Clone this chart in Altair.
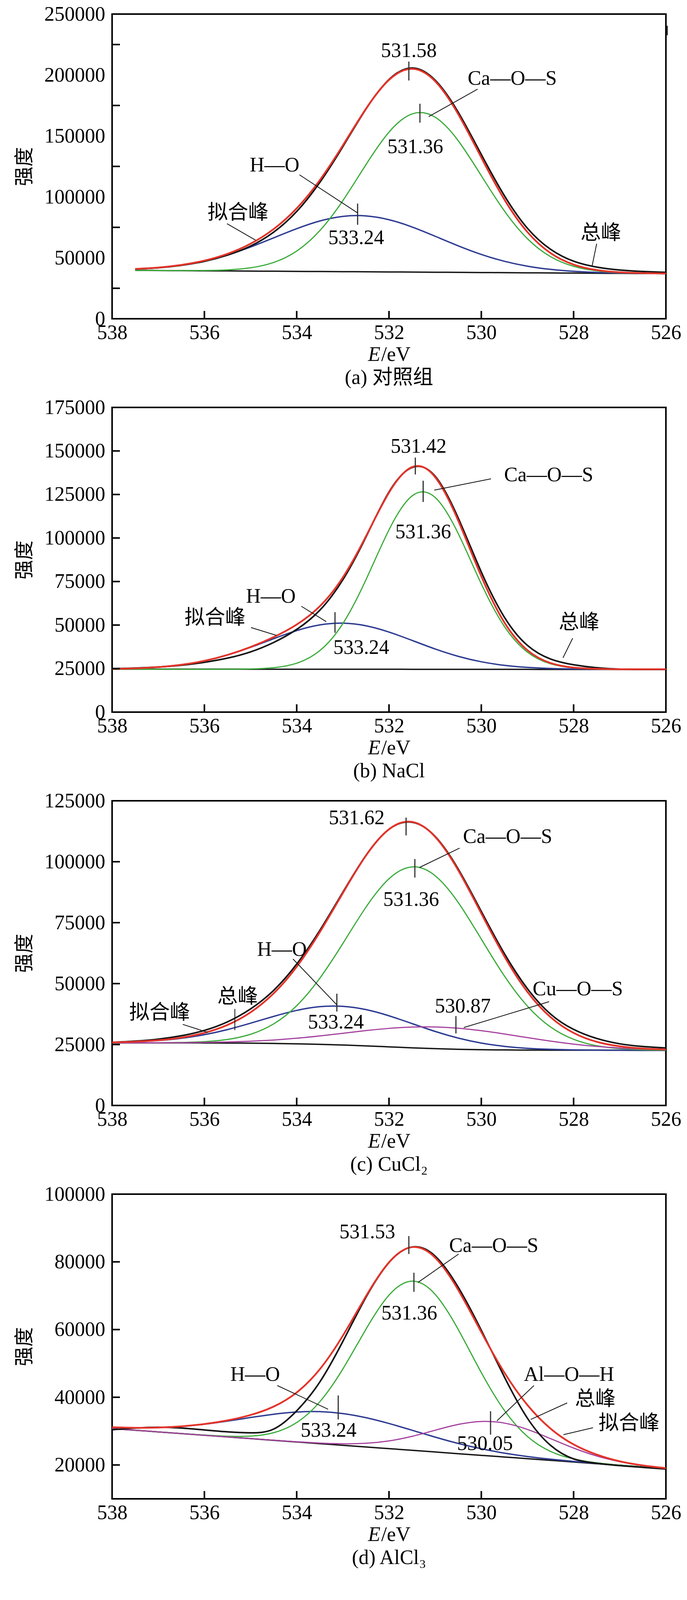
import altair as alt
import pandas as pd

# ---------------- data ----------------
E = [538.0, 537.5, 537.0, 536.5, 536.0, 535.5, 535.0, 534.5, 534.0, 533.5, 533.0, 532.5,
     532.0, 531.5, 531.0, 530.5, 530.0, 529.5, 529.0, 528.5, 528.0, 527.5, 527.0, 526.5, 526.0]
X_LABELS = [538, 536, 534, 532, 530, 528, 526]
X_TICKS = [536, 534, 532, 530, 528]

# (a) 对照组
A_BASE = [None, 39700, 39580, 39470, 39350, 39230, 39110, 39000, 38880, 38760, 38640, 38530,
          38410, 38290, 38170, 38060, 37940, 37820, 37700, 37590, 37470, 37350, 37230, 37120, 37000]
A_HO = [None, 40880, 42010, 44080, 47460, 52380, 58840, 66350, 73900, 80220, 84000, 84400,
        81270, 75300, 67710, 59850, 52790, 47170, 43140, 40520, 38930, 38020, 37510, 37230, 37040]
A_CAOS = [None, 39700, 39590, 39530, 39595, 40100, 41800, 46200, 55560, 72260, 96920, 126390,
          153130, 168070, 165370, 146070, 117390, 88480, 65670, 50960, 43010, 39340, 37850, 37290, 37040]
A_FIT = [None, 40880, 42020, 44140, 47705, 53250, 61530, 73550, 90580, 113720, 142280, 172260,
         195990, 205080, 194910, 167860, 132240, 97830, 71110, 53890, 44470, 40010, 38130, 37400, 37080]
A_TOTAL = [None, 40700, 41800, 43800, 47100, 52200, 59600, 71000, 88000, 111800, 141200, 172000,
           196300, 205800, 195800, 169500, 134800, 101000, 74200, 57000, 47200, 42400, 40000, 38800, 38100]

# (b) NaCl
B_BASE = [24700, 24700, 24690, 24680, 24670, 24660, 24650, 24640, 24630, 24620, 24610, 24600,
          24600, 24590, 24580, 24570, 24560, 24550, 24540, 24530, 24520, 24510, 24500, 24500, 24500]
B_HO = [24820, 25150, 25860, 27190, 29440, 32810, 37210, 42180, 46820, 50070, 51090, 49580,
        45970, 41180, 36260, 32040, 28910, 26860, 25680, 25060, 24780, 24665, 24620, 24605, 24600]
B_CAOS = [24600, 24600, 24600, 24600, 24604, 24630, 24785, 25500, 28070, 35290, 50850, 75960,
          104700, 124180, 123290, 102550, 73680, 49230, 34450, 27740, 25400, 24760, 24626, 24600, 24600]
B_FIT = [24820, 25150, 25860, 27190, 29444, 32840, 37395, 43080, 50290, 60760, 77340, 100940,
         126070, 140760, 134950, 109990, 77990, 51490, 35530, 28200, 25580, 24825, 24646, 24605, 24600]
B_TOTAL = [24900, 25300, 25900, 26900, 28600, 31000, 34600, 40000, 47500, 58500, 76000, 100500,
           126500, 140500, 135500, 111500, 80500, 54500, 38300, 30500, 27200, 25500, 24700, 24500, 24500]

# (c) CuCl2
C_BASE = [25700, 25700, 25690, 25680, 25660, 25620, 25560, 25450, 25300, 25100, 24800, 24450,
          24050, 23650, 23300, 23050, 22880, 22780, 22720, 22690, 22670, 22660, 22660, 22650, 22650]
C_HO = [25890, 26150, 26660, 27580, 29050, 31140, 33750, 36540, 39000, 40540, 40670, 39330,
        36780, 33590, 30370, 27650, 25600, 24250, 23445, 23020, 22805, 22710, 22678, 22656, 22652]
C_CAOS = [25700, 25712, 25738, 25850, 26190, 27090, 29210, 33460, 40930, 52190, 66450, 81330,
          93010, 97880, 94260, 83270, 68250, 53140, 40750, 32200, 27130, 24510, 23340, 22875, 22715]
C_CUOS = [25706, 25717, 25732, 25779, 25875, 26053, 26371, 26860, 27590, 28540, 29620, 30720,
          31630, 32170, 32200, 31690, 30680, 29330, 27830, 26390, 25170, 24220, 23570, 23140, 22900]
C_FIT = [25896, 26179, 26750, 27849, 29795, 33043, 38211, 45960, 56920, 71070, 87140, 102480,
         113320, 116340, 110230, 96510, 78770, 61160, 46585, 36230, 29765, 26120, 24268, 23371, 22967]
C_TOTAL = [25900, 26400, 27200, 28600, 30800, 34300, 39600, 47200, 58000, 71800, 87500, 102600,
           113300, 116200, 110400, 97000, 79600, 62300, 47900, 37500, 31200, 27500, 25300, 24200, 23600]

# (d) AlCl3
D_BASE = [30750, 30260, 29760, 29270, 28780, 28280, 27790, 27290, 26800, 26310, 25810, 25320,
          24830, 24340, 23840, 23340, 22850, 22360, 21860, 21370, 20880, 20380, 19890, 19390, 18900]
D_HO = [31130, 30980, 31050, 31400, 32050, 32960, 34020, 34990, 35640, 35750, 35190, 33970,
        32250, 30260, 28230, 26360, 24790, 23510, 22500, 21700, 21040, 20450, 19920, 19400, 18905]
D_CAOS = [30750, 30260, 29760, 29280, 28830, 28490, 28530, 29530, 32530, 38660, 48350, 60090,
          70160, 74310, 70410, 60030, 47290, 36120, 28410, 24000, 21780, 20640, 19950, 19405, 18903]
D_ALOH = [30750, 30260, 29760, 29270, 28780, 28281, 27793, 27303, 26850, 26470, 26260, 26410,
          27110, 28460, 30260, 31980, 32860, 32370, 30500, 27790, 25000, 22660, 20980, 19840, 19060]
D_FIT = [31130, 30980, 31050, 31410, 32100, 33171, 34763, 37243, 41420, 48260, 58180, 69830,
         79860, 84350, 81220, 71690, 59240, 47280, 37690, 30750, 26060, 23070, 21070, 19865, 19068]
D_TOTAL = [30400, 30900, 31150, 30900, 30350, 29800, 29500, 30600, 36000, 44500, 56500, 69500,
           79800, 84400, 81700, 72500, 59800, 46000, 33800, 25800, 21800, 20500, 19800, 19300, 18800]

# annotations: (text, E, intensity)
A_TEXT = [("531.58", 531.57, 219800), ("Ca—O—S", 529.33, 197100), ("531.36", 531.43, 141000),
          ("H—O", 534.48, 125900), ("533.24", 532.71, 66400), ("拟合峰", 535.27, 86800),
          ("总峰", 527.41, 70300)]
A_LEAD = [(530.08, 188400, 531.14, 165800), (533.94, 118100, 532.68, 86800),
          (535.51, 78000, 534.89, 64500), (527.5, 61600, 527.6, 43200)]
A_MARK = [(531.57, 211000, 195500), (531.33, 176400, 160900), (532.68, 94500, 77100),
          (525.97, 240400, 232600)]

B_TEXT = [("531.42", 531.36, 152600), ("Ca—O—S", 528.54, 136100), ("531.36", 531.26, 103500),
          ("H—O", 534.56, 66500), ("533.24", 532.6, 37030), ("拟合峰", 535.77, 54000),
          ("总峰", 527.88, 51300)]
B_LEAD = [(529.79, 134000, 531.02, 127500), (533.9, 60800, 533.36, 51950),
          (534.99, 48560, 534.44, 44090), (528.02, 42460, 528.23, 31200)]
B_MARK = [(531.43, 146200, 136500), (531.26, 132900, 120700), (533.17, 57400, 45600)]

C_TEXT = [("531.62", 532.70, 117900), ("Ca—O—S", 529.43, 110200), ("531.36", 531.52, 84500),
          ("H—O", 534.32, 64000), ("533.24", 533.15, 34150), ("总峰", 535.28, 44550),
          ("拟合峰", 536.97, 37980), ("Cu—O—S", 527.91, 47830), ("530.87", 530.40, 40720)]
C_LEAD = [(530.47, 105600, 531.34, 97640), (534.08, 60100, 533.13, 41270),
          (535.34, 39620, 535.34, 30870), (536.47, 33280, 535.93, 29990),
          (528.53, 42580, 530.38, 31960)]
C_MARK = [(531.63, 118100, 110800), (531.44, 101100, 93500), (533.13, 45860, 38530),
          (530.55, 36670, 29550)]

D_TEXT = [("531.53", 532.47, 88840), ("Ca—O—S", 529.73, 84770), ("531.36", 531.56, 64810),
          ("H—O", 534.9, 46640), ("533.24", 533.31, 30180), ("Al—O—H", 528.1, 46640),
          ("530.05", 529.92, 26270), ("总峰", 527.53, 39390), ("拟合峰", 526.8, 32220)]
D_LEAD = [(530.49, 82320, 531.37, 73930), (534.42, 43460, 533.32, 36460),
          (528.86, 43460, 529.66, 33040), (528.14, 38330, 528.93, 33440),
          (527.58, 31000, 528.22, 28960)]
D_MARK = [(531.57, 87620, 82320), (531.46, 76790, 71160), (533.1, 40530, 33440),
          (529.8, 35890, 28960)]

# ---------------- styling ----------------
SERIF = "Liberation Serif, Noto Sans CJK SC"
FS = 52
W, H = 1418, 780
STYLE = {
    "base": ("#161616", 3.5),
    "ho": ("#2d3b92", 3.5),
    "caos": ("#3bab3a", 3),
    "xos": ("#a5429e", 3),
    "total": ("#141414", 4),
    "fit": ("#e3342a", 4.5),
}


def panel(series, ydom, ylabels, yticks, texts, leads, marks, caption):
    xs = alt.Scale(domain=[538, 526], nice=False, zero=False)
    ys = alt.Scale(domain=ydom, nice=False, zero=False)
    xax = alt.Axis(values=X_LABELS, format="d", ticks=False, tickSize=0, domain=False,
                   grid=False, title=None, labelPadding=10, labelFlush=False, labelLimit=400)
    yax = alt.Axis(values=ylabels, format="d", ticks=False, tickSize=0, domain=False,
                   grid=False, title="强度", labelPadding=18, titlePadding=25, labelLimit=400)

    def X(f):
        return alt.X(f, type="quantitative", scale=xs, axis=xax)

    def Y(f):
        return alt.Y(f, type="quantitative", scale=ys, axis=yax)

    layers = []
    for key, vals in series:
        df = pd.DataFrame({"E": E, "V": vals})
        color, sw = STYLE[key]
        layers.append(alt.Chart(df).mark_line(color=color, strokeWidth=sw,
                                              interpolate="natural")
                      .encode(x=X("E"), y=Y("V")))

    mk = pd.DataFrame(marks, columns=["E", "V1", "V2"])
    layers.append(alt.Chart(mk).mark_rule(color="#333333", strokeWidth=3)
                  .encode(x=X("E"), y=Y("V1"), y2=alt.Y2("V2")))

    ld = pd.DataFrame(leads, columns=["E1", "V1", "E2", "V2"])
    layers.append(alt.Chart(ld).mark_rule(color="#111111", strokeWidth=2)
                  .encode(x=X("E1"), x2=alt.X2("E2"), y=Y("V1"), y2=alt.Y2("V2")))

    tx = pd.DataFrame(texts, columns=["t", "E", "V"])
    layers.append(alt.Chart(tx).mark_text(font=SERIF, fontSize=FS, color="black",
                                          align="center", baseline="middle")
                  .encode(x=X("E"), y=Y("V"), text="t:N"))

    xt = pd.DataFrame({"t": X_TICKS})
    layers.append(alt.Chart(xt).mark_rule(color="black", strokeWidth=4)
                  .encode(x=X("t"), y=alt.value(H), y2=alt.value(H - 20)))
    yt = pd.DataFrame({"t": yticks})
    layers.append(alt.Chart(yt).mark_rule(color="black", strokeWidth=4)
                  .encode(y=Y("t"), x=alt.value(0), x2=alt.value(20)))

    e1 = pd.DataFrame({"t": ["E"]})
    layers.append(alt.Chart(e1).mark_text(font="Liberation Serif", fontSize=FS,
                                          fontStyle="italic", align="right",
                                          baseline="middle", color="black")
                  .encode(x=alt.value(W / 2 - 22), y=alt.value(H + 92), text="t:N"))
    e2 = pd.DataFrame({"t": ["/eV"]})
    layers.append(alt.Chart(e2).mark_text(font="Liberation Serif", fontSize=FS,
                                          align="left", baseline="middle", color="black")
                  .encode(x=alt.value(W / 2 - 20), y=alt.value(H + 92), text="t:N"))
    cp = pd.DataFrame({"t": [caption]})
    layers.append(alt.Chart(cp).mark_text(font=SERIF, fontSize=FS, align="center",
                                          baseline="middle", color="black")
                  .encode(x=alt.value(W / 2), y=alt.value(H + 151), text="t:N"))

    return alt.layer(*layers).properties(width=W, height=H)


pa = panel([("base", A_BASE), ("ho", A_HO), ("caos", A_CAOS), ("total", A_TOTAL), ("fit", A_FIT)],
           [0, 250000], [0, 50000, 100000, 150000, 200000, 250000],
           [25000, 75000, 125000, 175000, 225000], A_TEXT, A_LEAD, A_MARK, "(a) 对照组")
pb = panel([("base", B_BASE), ("ho", B_HO), ("caos", B_CAOS), ("total", B_TOTAL), ("fit", B_FIT)],
           [0, 175000], [0, 25000, 50000, 75000, 100000, 125000, 150000, 175000],
           [25000, 50000, 75000, 100000, 125000, 150000], B_TEXT, B_LEAD, B_MARK, "(b) NaCl")
pc = panel([("base", C_BASE), ("ho", C_HO), ("caos", C_CAOS), ("xos", C_CUOS), ("total", C_TOTAL),
            ("fit", C_FIT)],
           [0, 125000], [0, 25000, 50000, 75000, 100000, 125000],
           [25000, 50000, 75000, 100000], C_TEXT, C_LEAD, C_MARK, "(c) CuCl₂")
pd_ = panel([("base", D_BASE), ("ho", D_HO), ("caos", D_CAOS), ("xos", D_ALOH), ("total", D_TOTAL),
             ("fit", D_FIT)],
            [10000, 100000], [20000, 40000, 60000, 80000, 100000],
            [20000, 40000, 60000, 80000], D_TEXT, D_LEAD, D_MARK, "(d) AlCl₃")

chart = (
    alt.vconcat(pa, pb, pc, pd_, spacing=20)
    .configure_view(stroke="black", strokeWidth=4)
    .configure_axis(labelFont="Liberation Serif", labelFontSize=FS, labelColor="black",
                    titleFont="Noto Sans CJK SC", titleFontSize=50, titleFontWeight="normal",
                    titleColor="black")
    .properties(padding={"left": 28, "top": 0, "right": 0, "bottom": 5}, background="white")
)

chart.save("out.html", embed_options={"renderer": "svg", "actions": False})
